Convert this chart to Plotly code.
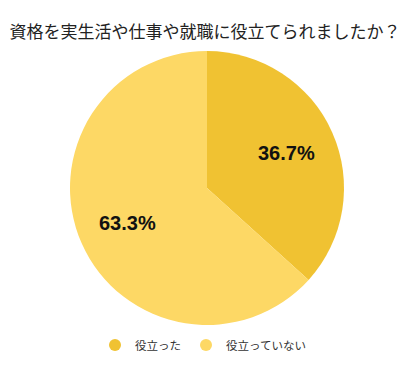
import math
import plotly.graph_objects as go

title = "資格を実生活や仕事や就職に役立てられましたか？"
labels = ["役立った", "役立っていない"]
values = [36.7, 63.3]
colors = ["#F0C232", "#FDD865"]

OFF = 8  # default body margin of the page
W, H = 410 - OFF, 371 - OFF
cx, cy, r = 207 - OFF, 188 - OFF, 137

fig = go.Figure()
fig.add_trace(go.Pie(
    labels=labels, values=values, sort=False, direction="clockwise", rotation=0,
    marker=dict(colors=colors, line=dict(width=0)),
    textinfo="none", showlegend=False, hoverinfo="skip",
    domain=dict(x=[(cx - r) / W, (cx + r) / W], y=[1 - (cy + r) / H, 1 - (cy - r) / H]),
))
for lab, col in zip(labels, colors):
    fig.add_trace(go.Scatter(x=[None], y=[None], mode="markers", name=lab,
                             marker=dict(symbol="circle", size=12, color=col)))

total = sum(values)
cum = 0
for v in values:
    mid = (cum + v / 2) / total * 2 * math.pi
    cum += v
    lr = 0.635 * r
    px = cx + lr * math.sin(mid)
    py = cy - lr * math.cos(mid)
    fig.add_annotation(x=px / W, y=1 - py / H, xref="paper", yref="paper",
                       text=f"<b>{v:.1f}%</b>", showarrow=False,
                       xanchor="center", yanchor="middle",
                       font=dict(family="Liberation Sans, Arial, sans-serif", size=20, color="#111111"))

fig.update_layout(
    width=W, height=H, margin=dict(l=0, r=0, t=0, b=0),
    paper_bgcolor="white", plot_bgcolor="white",
    xaxis=dict(visible=False), yaxis=dict(visible=False),
    title=dict(text=title, x=(205 - OFF) / W, xanchor="center", y=1 - (32 - OFF) / H, yanchor="middle",
               font=dict(family="Noto Sans CJK JP", size=17, color="#222222")),
    legend=dict(orientation="h", x=(203 - OFF) / W, xanchor="center", y=1 - (345 - OFF) / H, yanchor="middle",
                font=dict(family="Noto Sans CJK JP", size=11.5, color="#333333"),
                itemwidth=30, tracegroupgap=0),
)
fig.write_html("out.html")
